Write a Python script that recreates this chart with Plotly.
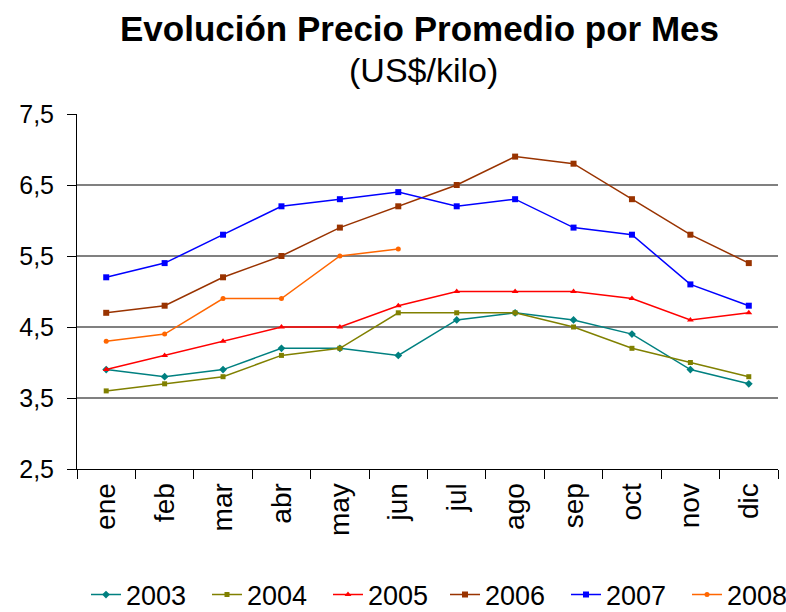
import plotly.graph_objects as go

months = ["ene", "feb", "mar", "abr", "may", "jun", "jul", "ago", "sep", "oct", "nov", "dic"]
v2003 = [3.9, 3.8, 3.9, 4.2, 4.2, 4.1, 4.6, 4.7, 4.6, 4.4, 3.9, 3.7]
v2004 = [3.6, 3.7, 3.8, 4.1, 4.2, 4.7, 4.7, 4.7, 4.5, 4.2, 4.0, 3.8]
v2005 = [3.9, 4.1, 4.3, 4.5, 4.5, 4.8, 5.0, 5.0, 5.0, 4.9, 4.6, 4.7]
v2006 = [4.7, 4.8, 5.2, 5.5, 5.9, 6.2, 6.5, 6.9, 6.8, 6.3, 5.8, 5.4]
v2007 = [5.2, 5.4, 5.8, 6.2, 6.3, 6.4, 6.2, 6.3, 5.9, 5.8, 5.1, 4.8]
v2008 = [4.3, 4.4, 4.9, 4.9, 5.5, 5.6]

series = [
    ("2003", v2003, "#008080", "diamond", 6, "legend"),
    ("2004", v2004, "#808000", "square", 5, "legend"),
    ("2005", v2005, "#FF0000", "triangle-up", 6, "legend"),
    ("2006", v2006, "#993300", "square", 6, "legend2"),
    ("2007", v2007, "#0000FF", "square", 6, "legend2"),
    ("2008", v2008, "#FF6600", "circle", 5, "legend2"),
]

FONT = "Liberation Sans, Arial, sans-serif"

fig = go.Figure()
for name, vals, color, sym, sz, leg in series:
    fig.add_trace(go.Scatter(
        x=months[:len(vals)], y=vals, name=name, mode="lines+markers",
        line=dict(color=color, width=1.5),
        marker=dict(color=color, symbol=sym, size=sz),
        legend=leg,
    ))

legend_common = dict(orientation="h", yanchor="middle", y=(469 - 595) / 355, xanchor="left",
                     entrywidth=76, entrywidthmode="pixels",
                     font=dict(size=27, family=FONT), itemwidth=30,
                     bgcolor="rgba(0,0,0,0)")

fig.update_layout(
    width=786, height=612,
    margin=dict(l=77, r=8, t=114, b=143, autoexpand=False),
    paper_bgcolor="white", plot_bgcolor="white",
    separators=",.",
    font=dict(family=FONT, color="black", size=24),
    showlegend=True,
    legend=dict(x=(86 - 77) / 701, **legend_common),
    legend2=dict(x=(445 - 77) / 701, **legend_common),
    annotations=[
        dict(text="<b>Evolución Precio Promedio por Mes</b>", xref="paper", yref="paper",
             x=(419 - 77) / 701, y=(469 - 28) / 355, xanchor="center", yanchor="middle",
             showarrow=False, font=dict(size=35, family=FONT, color="black")),
        dict(text="(US$/kilo)", xref="paper", yref="paper",
             x=(423 - 77) / 701, y=(469 - 70) / 355, xanchor="center", yanchor="middle",
             showarrow=False, font=dict(size=34, family=FONT, color="black")),
    ],
)

fig.update_xaxes(
    type="category", categoryorder="array", categoryarray=months,
    range=[-0.5, 11.5], tickson="boundaries", ticks="outside", ticklen=9,
    tickcolor="black", tickangle=-90, showline=True, linecolor="black", linewidth=1,
    showgrid=False, zeroline=False, tickfont=dict(size=28, family=FONT),
    automargin=False, ticklabelstandoff=2,
)
fig.update_yaxes(
    range=[2.5, 7.5], tick0=2.5, dtick=1, tickformat=".1f",
    ticks="outside", ticklen=9, tickcolor="black",
    showline=True, linecolor="black", linewidth=1,
    showgrid=True, gridcolor="#808080", gridwidth=2, zeroline=False,
    tickfont=dict(size=25, family=FONT), automargin=False, ticklabelstandoff=8,
)

fig.write_html("out.html", post_script="document.body.style.margin='0';",
               config={"displayModeBar": False})
